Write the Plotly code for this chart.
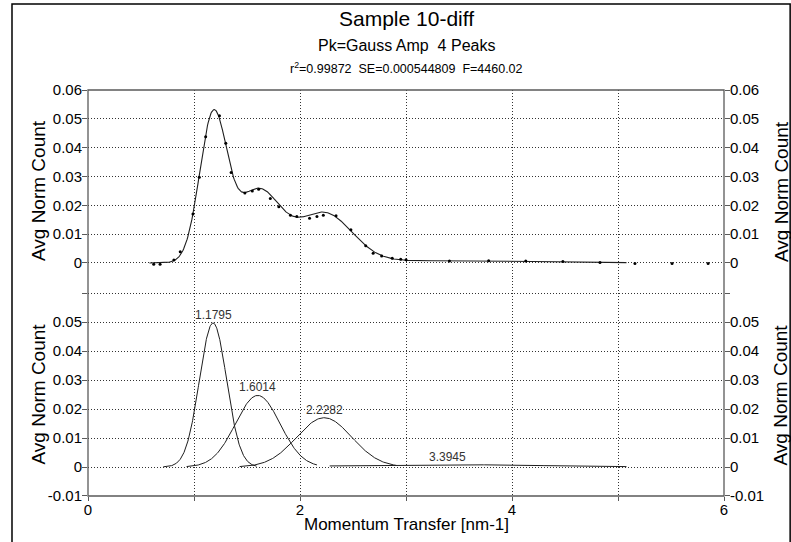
import numpy as np
import plotly.graph_objects as go

# ---------------- data ----------------
data_x = [0.62, 0.68, 0.81, 0.87, 0.99, 1.05, 1.11, 1.24, 1.30, 1.35, 1.48, 1.55,
          1.61, 1.72, 1.80, 1.91, 1.97, 2.09, 2.16, 2.22, 2.34, 2.48, 2.62, 2.69,
          2.77, 2.87, 2.95, 3.00, 3.41, 3.78, 4.13, 4.48, 4.83, 5.16, 5.51, 5.85]
data_y = [-0.0004, -0.0004, 0.0010, 0.0039, 0.0170, 0.0297, 0.0438, 0.0511, 0.0415,
          0.0314, 0.0243, 0.0250, 0.0256, 0.0224, 0.0195, 0.0166, 0.0161, 0.0155,
          0.0161, 0.0166, 0.0164, 0.0115, 0.0060, 0.0034, 0.0024, 0.0016, 0.0013,
          0.0011, 0.0007, 0.0008, 0.0007, 0.0005, 0.0002, -0.0002, -0.0002, -0.0002]

peak_labels = ["1.1795", "1.6014", "2.2282", "3.3945"]
peak_centers = [1.1795, 1.6014, 2.2282, 3.3945]
peak_amps = [0.0497, 0.0247, 0.0170, 0.0008]
peak_widths = [0.128, 0.21, 0.26, 0.9]
peak_lo = [0.71, 0.93, 1.43, 2.28]
peak_hi = [1.59, 2.16, 2.91, 5.08]
fit_range = [0.58, 5.08]

x_tickvals = [0, 1, 2, 3, 4, 5, 6]
x_ticktext = ["0", "", "2", "", "4", "", "6"]
top_tickvals = [0, 0.01, 0.02, 0.03, 0.04, 0.05, 0.06]
top_ticktext = ["0", "0.01", "0.02", "0.03", "0.04", "0.05", "0.06"]
bot_tickvals = [-0.01, 0, 0.01, 0.02, 0.03, 0.04, 0.05, 0.06]
bot_ticktext = ["-0.01", "0", "0.01", "0.02", "0.03", "0.04", "0.05", " "]

title_1 = "Sample 10-diff"
title_2 = "Pk=Gauss Amp\u00a0 4 Peaks"
title_3 = "r<sup>2</sup>=0.99872\u00a0 SE=0.000544809\u00a0 F=4460.02"
y_title = "Avg Norm Count"
x_title = "Momentum Transfer [nm-1]"


def gauss(x, a, c, s):
    return a * np.exp(-0.5 * ((x - c) / s) ** 2)


FONT = "Arial, Liberation Sans, sans-serif"
LINE = "#1e1e1e"
GRID = "#333333"
GDASH = "1px,2px"
AX = "#5a5a5a"

fig = go.Figure()

# top panel: fit line + data points
xf = np.linspace(fit_range[0], fit_range[1], 700)
yf = np.zeros_like(xf)
for a, c, s in zip(peak_amps, peak_centers, peak_widths):
    yf = yf + gauss(xf, a, c, s)
fig.add_trace(go.Scatter(x=xf, y=yf, mode="lines", line=dict(color=LINE, width=1.1),
                         xaxis="x", yaxis="y", showlegend=False, hoverinfo="skip"))
fig.add_trace(go.Scatter(x=data_x, y=data_y, mode="markers",
                         marker=dict(color="#000", size=3),
                         xaxis="x", yaxis="y", showlegend=False))

# bottom panel: components
for a, c, s, lo, hi in zip(peak_amps, peak_centers, peak_widths, peak_lo, peak_hi):
    xc = np.linspace(lo, hi, 300)
    fig.add_trace(go.Scatter(x=xc, y=gauss(xc, a, c, s), mode="lines",
                             line=dict(color=LINE, width=1),
                             xaxis="x2", yaxis="y2", showlegend=False, hoverinfo="skip"))

# invisible traces for right-side axes
fig.add_trace(go.Scatter(x=[0], y=[0], mode="markers", marker=dict(opacity=0),
                         xaxis="x", yaxis="y3", showlegend=False, hoverinfo="skip"))
fig.add_trace(go.Scatter(x=[0], y=[0], mode="markers", marker=dict(opacity=0),
                         xaxis="x2", yaxis="y4", showlegend=False, hoverinfo="skip"))

TOP_RANGE = [-0.0052, 0.06]
BOT_RANGE = [-0.01, 0.0652]
SPLIT = 0.537
tickfont = dict(family=FONT, size=15, color="#000")

common_x = dict(range=[0, 6], tickvals=x_tickvals, showgrid=True, griddash=GDASH,
                gridcolor=GRID, gridwidth=1, zeroline=False, showline=False)
yax = dict(ticks="outside", ticklen=5, tickcolor=AX, tickfont=tickfont,
           zeroline=False, automargin=False, ticklabelstandoff=-3)
fig.update_layout(
    width=791, height=542,
    margin=dict(l=88, r=67, t=90, b=46),
    paper_bgcolor="white", plot_bgcolor="white",
    xaxis=dict(domain=[0, 1], anchor="y", showticklabels=False, ticks="", **common_x),
    xaxis2=dict(domain=[0, 1], anchor="y2", ticktext=x_ticktext, ticks="outside",
                ticklen=4, tickcolor=AX, tickfont=tickfont, ticklabelstandoff=-4,
                automargin=False, **common_x),
    yaxis=dict(domain=[SPLIT, 1], range=TOP_RANGE, tickvals=top_tickvals,
               ticktext=top_ticktext, showgrid=True, griddash=GDASH, gridcolor=GRID,
               anchor="x", **yax),
    yaxis3=dict(overlaying="y", side="right", range=TOP_RANGE, tickvals=top_tickvals,
                ticktext=top_ticktext, showgrid=False, anchor="x", **yax),
    yaxis2=dict(domain=[0, SPLIT], range=BOT_RANGE, tickvals=bot_tickvals,
                ticktext=bot_ticktext, showgrid=True, griddash=GDASH, gridcolor=GRID,
                anchor="x2", **yax),
    yaxis4=dict(overlaying="y2", side="right", range=BOT_RANGE, tickvals=bot_tickvals,
                ticktext=bot_ticktext, showgrid=False, anchor="x2", **yax),
    shapes=[
        dict(type="rect", xref="paper", yref="paper", x0=0, x1=1, y0=0, y1=1,
             line=dict(color=AX, width=1.3), layer="above"),
        dict(type="rect", xref="paper", yref="paper", x0=-0.1195, x1=1.104,
             y0=-0.12, y1=1.2118, line=dict(color="#000", width=1.5)),
    ],
)

ann = []
ann.append(dict(text=title_1, x=0.5, y=1.1749, xref="paper", yref="paper",
                showarrow=False, font=dict(family=FONT, size=21, color="#000"),
                yanchor="middle"))
ann.append(dict(text=title_2, x=0.5, y=1.1108, xref="paper", yref="paper",
                showarrow=False, font=dict(family=FONT, size=16, color="#000"),
                yanchor="middle"))
ann.append(dict(text=title_3, x=0.5, y=1.0542, xref="paper", yref="paper",
                showarrow=False, font=dict(family=FONT, size=12.5, color="#000"),
                yanchor="middle"))
for yc in (0.7512, 0.25):
    for xc in (-0.0786, 1.0896):
        ann.append(dict(text=y_title, x=xc, y=yc, xref="paper", yref="paper",
                        showarrow=False, textangle=-90,
                        font=dict(family=FONT, size=19, color="#000"),
                        xanchor="center", yanchor="middle"))
ann.append(dict(text=x_title, x=0.5, y=-0.071, xref="paper", yref="paper",
                showarrow=False, font=dict(family=FONT, size=17, color="#000"),
                yanchor="middle"))
for lab, c, a in zip(peak_labels, peak_centers, peak_amps):
    ann.append(dict(text=lab, x=c, y=a, xref="x2", yref="y2", showarrow=False,
                    font=dict(family=FONT, size=12, color="#333"),
                    yanchor="bottom", yshift=-1))
fig.update_layout(annotations=ann)

fig.write_html("out.html",
               config={"displayModeBar": False},
               post_script="document.body.style.margin='0px';"
                           "document.body.style.overflow='hidden';")
